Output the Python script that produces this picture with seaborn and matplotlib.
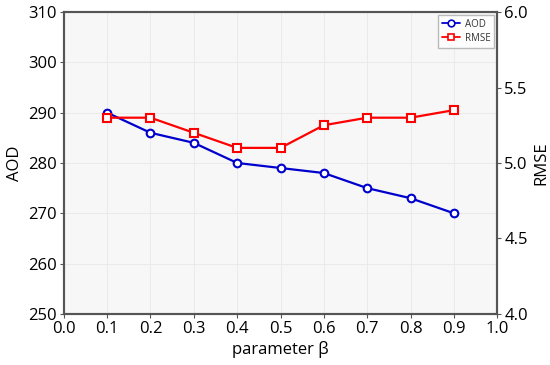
import numpy as np
import pandas as pd
import seaborn as sns
import matplotlib.pyplot as plt
from matplotlib.lines import Line2D

# data
beta = [0.1, 0.2, 0.3, 0.4, 0.5, 0.6, 0.7, 0.8, 0.9]
aod = [290, 286, 284, 280, 279, 278, 275, 273, 270]
rmse = [5.3, 5.3, 5.2, 5.1, 5.1, 5.25, 5.3, 5.3, 5.35]

df = pd.DataFrame({"beta": beta, "AOD": aod, "RMSE": rmse})

sns.set_style("ticks")
plt.rcParams['font.family'] = ['Open Sans', 'DejaVu Sans']
plt.rcParams['text.color'] = 'black'
plt.rcParams['axes.labelcolor'] = 'black'

fig, ax = plt.subplots(figsize=(5.5, 3.65), dpi=100)
fig.subplots_adjust(left=0.116, right=0.904, top=0.967, bottom=0.140)
ax2 = ax.twinx()

sns.lineplot(data=df, x="beta", y="AOD", ax=ax, color="#0000cc", marker="o",
             markersize=5.5, markerfacecolor="white", markeredgecolor="#0000cc",
             markeredgewidth=1.5, linewidth=1.6)
sns.lineplot(data=df, x="beta", y="RMSE", ax=ax2, color="#ff0000", marker="s",
             markersize=5.5, markerfacecolor="white", markeredgecolor="#ff0000",
             markeredgewidth=1.5, linewidth=1.6)

ax.set_facecolor("#f7f7f7")
ax.set_xlim(0, 1.0)
ax.set_xticks(np.arange(0, 1.01, 0.1))
ax.set_ylim(250, 310)
ax.set_yticks(range(250, 311, 10))
ax2.set_ylim(4.0, 6.0)
ax2.set_yticks([4.0, 4.5, 5.0, 5.5, 6.0])
ax2.yaxis.set_major_formatter(plt.FormatStrFormatter("%.1f"))
ax.xaxis.set_major_formatter(plt.FormatStrFormatter("%.1f"))

ax.grid(True, color="#e8e8e8", linewidth=0.6)
ax.set_axisbelow(True)

ax.set_xlabel("parameter β", fontsize=12, labelpad=3)
ax.set_ylabel("AOD", fontsize=12, labelpad=4)
ax2.set_ylabel("RMSE", fontsize=12, labelpad=4)
ax.tick_params(labelsize=12, length=3, color="#555555", labelcolor="black", pad=2)
ax2.tick_params(labelsize=12, length=3, color="#555555", labelcolor="black", pad=2)

for a in (ax, ax2):
    for s in a.spines.values():
        s.set_color("#555555")
        s.set_linewidth(1.5)

handles = [
    Line2D([], [], color="#0000cc", marker="o", markerfacecolor="white",
           markeredgecolor="#0000cc", markersize=4.8, markeredgewidth=1.2,
           linewidth=1.3, label="AOD"),
    Line2D([], [], color="#ff0000", marker="s", markerfacecolor="white",
           markeredgecolor="#ff0000", markersize=4.8, markeredgewidth=1.2,
           linewidth=1.3, label="RMSE"),
]
leg = ax.legend(handles=handles, loc="upper right", fontsize=7, frameon=True,
                fancybox=False, edgecolor="#aaaaaa", handlelength=1.8,
                handletextpad=0.5, labelspacing=0.3, borderpad=0.4,
                borderaxespad=0.3)
for t in leg.get_texts():
    t.set_color("#333333")

plt.savefig("out.png", dpi=100)
